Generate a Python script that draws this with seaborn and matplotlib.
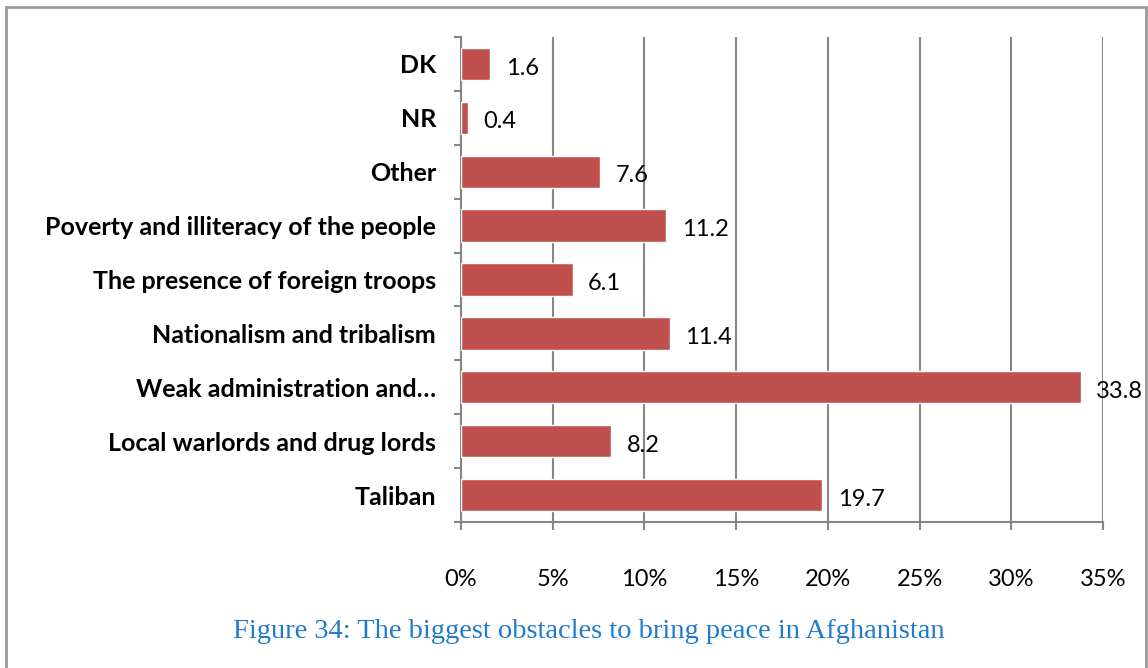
import matplotlib
matplotlib.use("Agg")
import matplotlib.pyplot as plt
from matplotlib.patches import Rectangle
from matplotlib.ticker import FixedLocator, FuncFormatter
import seaborn as sns
import pandas as pd

# Survey responses (percent), listed top to bottom
categories = [
    "DK",
    "NR",
    "Other",
    "Poverty and illiteracy of the people",
    "The presence of foreign troops",
    "Nationalism and tribalism",
    "Weak administration and\u2026",
    "Local warlords and drug lords",
    "Taliban",
]
values = [1.6, 0.4, 7.6, 11.2, 6.1, 11.4, 33.8, 8.2, 19.7]
x_ticks = [0, 5, 10, 15, 20, 25, 30, 35]
caption = "Figure 34: The biggest obstacles to bring peace in Afghanistan"

df = pd.DataFrame({"category": categories, "value": values})

sns.set_theme(style="white")
plt.rcParams["font.family"] = ["Lato", "DejaVu Sans"]

W, H = 1148, 668
fig = plt.figure(figsize=(W / 100, H / 100), dpi=100)
ax = fig.add_axes([461 / W, 1 - 522 / H, (1103 - 461) / W, (522 - 37) / H])

bar_color = "#C0504D"
grid_color = "#868686"

sns.barplot(data=df, x="value", y="category", orient="h", color=bar_color,
            width=0.6, saturation=1, ax=ax, zorder=3)

ax.set_xlim(0, 35)
ax.set_ylim(len(categories) - 0.5, -0.5)
ax.xaxis.set_major_locator(FixedLocator(x_ticks))
ax.xaxis.set_major_formatter(FuncFormatter(lambda v, p: f"{int(v)}%"))
ax.grid(axis="x", color=grid_color, linewidth=1.5, zorder=0)
ax.grid(axis="y", visible=False)
ax.set_xlabel("")
ax.set_ylabel("")

for side in ["top", "right"]:
    ax.spines[side].set_visible(False)
for side in ["left", "bottom"]:
    ax.spines[side].set_color(grid_color)
    ax.spines[side].set_linewidth(1.5)

# Category labels between separator ticks
ax.set_yticks(range(len(categories)))
ax.set_yticklabels(categories, fontsize=18, fontweight="bold", color="black")
ax.tick_params(axis="y", which="major", left=True, length=0, pad=18)
sep = FixedLocator([i - 0.5 for i in range(len(categories) + 1)])
ax.yaxis.set_minor_locator(sep)
ax.tick_params(axis="y", which="minor", left=True, length=5,
               width=1.5, color=grid_color)
ax.tick_params(axis="x", which="major", bottom=True, length=6, width=1.5,
               color=grid_color, labelsize=17, labelcolor="black", pad=28)

# Value labels at the end of each bar
for i, v in enumerate(values):
    ax.annotate(f"{v:.1f}", xy=(v, i), xytext=(11, -3),
                textcoords="offset points", va="center", ha="left",
                fontsize=17, color="black", zorder=4)

fig.text(589 / W, 1 - 631 / H, caption, ha="center", va="center",
         fontsize=20.5, color="#1F7BCB", family="Liberation Serif")

# Frame around the figure
fig.patches.append(Rectangle((6 / W, -0.1), (1146 - 6) / W, 1.1 - 7 / H,
                             transform=fig.transFigure, fill=False,
                             edgecolor="#999999", linewidth=2))

fig.savefig("out.png", dpi=100, facecolor="white")
